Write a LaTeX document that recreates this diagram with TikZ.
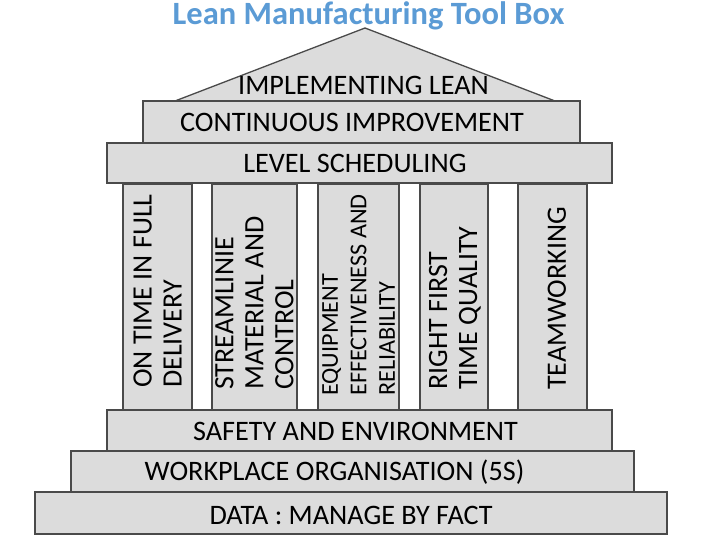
\documentclass[tikz,border=0pt]{standalone}
\usepackage{fontspec}
\setmainfont{Carlito}
\definecolor{boxfill}{HTML}{DCDCDC}
\definecolor{boxline}{HTML}{4A4A4A}
\definecolor{titleblue}{HTML}{5B9BD5}
\begin{document}
\begin{tikzpicture}[x=1pt,y=-1pt,
  slab/.style={draw=boxline, fill=boxfill, line width=1.3pt, inner sep=0pt, rectangle},
  big/.style={font=\fontsize{28.2}{30}\selectfont, inner sep=0pt},
  coltext/.style={font=\fontsize{28}{30}\selectfont, inner sep=0pt, rotate=90, anchor=west, align=left},
  coltextsmall/.style={font=\fontsize{24.2}{28.5}\selectfont, inner sep=0pt, rotate=90, anchor=west, align=left},
  titletext/.style={font=\fontsize{32.5}{34}\selectfont\bfseries, text=titleblue, inner sep=0pt}
]
\useasboundingbox (0,0) rectangle (720,540);

% title
\node[titletext, anchor=base] (title) at (368.5,25) {Lean Manufacturing Tool Box};

% roof
\coordinate (apex) at (365,28);
\coordinate (roofL) at (175,101);
\coordinate (roofR) at (555,101);
\draw[draw=boxline, fill=boxfill, line width=1.3pt, line join=miter] (roofL) -- (apex) -- (roofR) -- cycle;
\node[big, anchor=base] (impl) at (363.5,95) {IMPLEMENTING LEAN};

% upper slabs
\node[slab, minimum width=437pt, minimum height=42pt] (ci) at (361.5,122) {};
\node[big, anchor=base] (citext) at (352,132) {CONTINUOUS IMPROVEMENT};
\node[slab, minimum width=505pt, minimum height=40pt] (ls) at (359.5,163) {};
\node[big, anchor=base] (lstext) at (355,173) {LEVEL SCHEDULING};

% columns
\node[slab, minimum width=69pt, minimum height=226pt] (c1) at (157.5,297) {};
\node[slab, minimum width=85pt, minimum height=226pt] (c2) at (254.5,297) {};
\node[slab, minimum width=81pt, minimum height=226pt] (c3) at (358.5,297) {};
\node[slab, minimum width=68pt, minimum height=226pt] (c4) at (454,297) {};
\node[slab, minimum width=69pt, minimum height=226pt] (c5) at (552.5,297) {};

\node[coltext] (t1) at (157.5,388) {ON TIME IN FULL\\DELIVERY};
\node[coltext] (t2) at (254.5,390) {STREAMLINIE\\MATERIAL AND\\CONTROL};
\node[coltextsmall] (t3) at (358.5,396) {EQUIPMENT\\EFFECTIVENESS AND\\RELIABILITY};
\node[coltext] (t4) at (455,390) {RIGHT FIRST\\TIME QUALITY};
\node[coltext] (t5) at (557,390) {TEAMWORKING};

% lower slabs
\node[slab, minimum width=505pt, minimum height=41pt] (se) at (359.5,430.5) {};
\node[big, anchor=base] (setext) at (355.5,440) {SAFETY AND ENVIRONMENT};
\node[slab, minimum width=563pt, minimum height=41pt] (wo) at (352.5,471.5) {};
\node[big, anchor=base] (wotext) at (334.5,480) {WORKPLACE ORGANISATION (5S)};
\node[slab, minimum width=632pt, minimum height=42pt] (data) at (351,513) {};
\node[big, anchor=base] (datatext) at (351,524) {DATA : MANAGE BY FACT};
\end{tikzpicture}
\end{document}
